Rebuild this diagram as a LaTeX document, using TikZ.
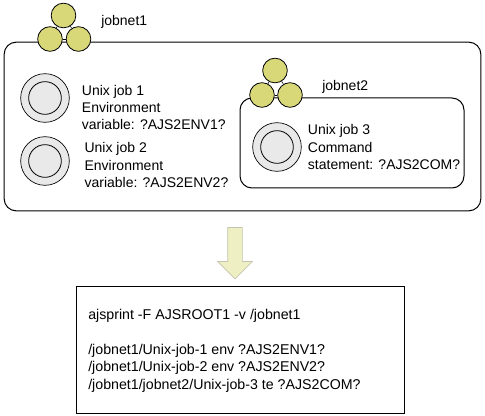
\documentclass[tikz,border=0pt]{standalone}
\usepackage{fontspec}
\setmainfont{Liberation Sans}
\usetikzlibrary{arrows.meta, positioning, shapes.arrows}
\definecolor{netfill}{HTML}{D8D878}
\definecolor{jobfill}{HTML}{E9E9E9}
\definecolor{arrowfill}{HTML}{EEF0C4}
\definecolor{arrowline}{HTML}{C4C4B0}
\tikzset{
  netbox/.style={draw, rounded corners=9pt, line width=0.75pt, fill=white},
  listbox/.style={draw, line width=0.75pt, minimum width=246pt, minimum height=94.5pt, inner sep=0pt},
  listtext/.style={align=left, inner sep=0pt, font=\fontsize{10.65}{13.1}\selectfont},
  netcircle/.style={draw, circle, line width=0.6pt, fill=netfill, minimum size=18.5pt, inner sep=0pt},
  jobouter/.style={draw, circle, line width=0.5pt, fill=jobfill, minimum size=36.5pt, inner sep=0pt},
  jobinner/.style={draw, circle, line width=0.6pt, fill=jobfill, minimum size=24.5pt, inner sep=0pt},
  tag/.style={align=left, inner sep=0pt, font=\fontsize{10.5}{12.9}\selectfont},
  flow/.style={draw=arrowline, fill=arrowfill, single arrow, line width=0.5pt, shape border rotate=270, text width=10.5pt, minimum height=38.5pt, minimum width=25.5pt, single arrow head extend=7.5pt, inner sep=0pt}
}
\begin{document}
\begin{tikzpicture}[x=0.75pt, y=-0.75pt]
    \useasboundingbox (0,0) rectangle (485,416);
    % job networks
    \node[netbox, minimum width=357.5pt, minimum height=126.5pt] (outer) at (242.5,126.5) {};
    \node[netbox, minimum width=168pt, minimum height=67.5pt] (inner) at (352,143) {};

    % jobnet1 icon
    \node[netcircle] (top1) at (63.5,15.5) {};
    \node[netcircle] (left1) at (50,39) {};
    \node[netcircle] (right1) at (78.5,39) {};
    \draw (top1) -- (left1);
    \draw (top1) -- (right1);
    \draw (left1) -- (right1);
    \node[tag, anchor=west] (name1) at (101,22) {jobnet1};

    % jobnet2 icon
    \node[netcircle] (top2) at (275,70.5) {};
    \node[netcircle] (left2) at (262,95) {};
    \node[netcircle] (right2) at (290,95) {};
    \draw (top2) -- (left2);
    \draw (top2) -- (right2);
    \draw (left2) -- (right2);
    \node[tag, anchor=west] (name2) at (322,87) {jobnet2};

    % unix jobs
    \node[jobouter] (job1) at (45,98) {};
    \node[jobinner] at (job1) {};
    \node[tag, right=9pt of job1, yshift=-7pt] (text1) {Unix job 1\\Environment\\variable: ?AJS2ENV1?};
    \node[jobouter] (job2) at (45,161) {};
    \node[jobinner] at (job2) {};
    \node[tag, right=11pt of job2, yshift=-3pt] (text2) {Unix job 2\\Environment\\variable: ?AJS2ENV2?};
    \node[jobouter] (job3) at (277,147) {};
    \node[jobinner] at (job3) {};
    \node[tag, right=4.5pt of job3] (text3) {Unix job 3\\Command\\statement: ?AJS2COM?};

    % result of ajsprint
    \node[listbox] (list) at (240,350) {};
    \node[listtext, anchor=north west] (listing) at (88,309) {ajsprint -F AJSROOT1 -v /jobnet1\\[13.1pt]
      /jobnet1/Unix-job-1 env ?AJS2ENV1?\\
      /jobnet1/Unix-job-2 env ?AJS2ENV2?\\
      /jobnet1/jobnet2/Unix-job-3 te ?AJS2COM?};
    \node[flow] (flow) at (235,249.5) {};
\end{tikzpicture}
\end{document}
